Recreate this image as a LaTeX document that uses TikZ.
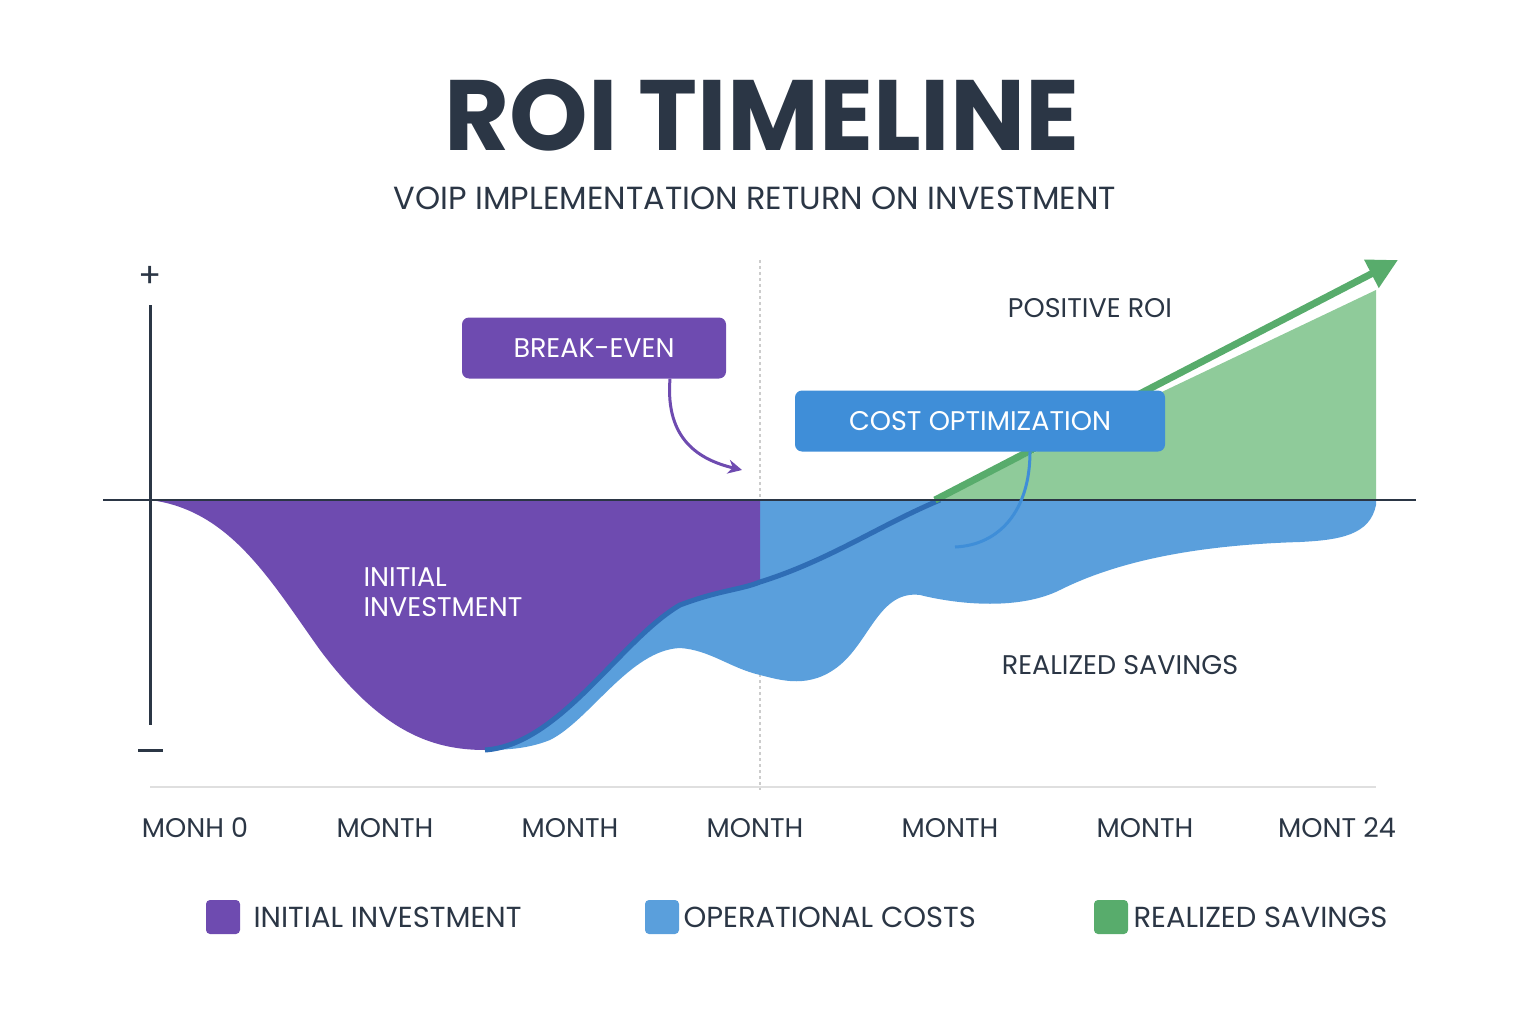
\documentclass[tikz,border=0pt]{standalone}
\usepackage{fontspec}
\setmainfont{Poppins}
\usetikzlibrary{arrows.meta}
\definecolor{navy}{HTML}{2B3645}
\definecolor{purp}{HTML}{6E4BB0}
\definecolor{blu}{HTML}{5A9FDC}
\definecolor{dblu}{HTML}{2F6DB5}
\definecolor{boxblu}{HTML}{3F8ED8}
\definecolor{grn}{HTML}{8FCB9A}
\definecolor{dgrn}{HTML}{58AC6C}
\tikzset{lbl/.style={font=\fontsize{27}{30}\selectfont\mdseries,text=navy},
 tag/.style={rounded corners=7pt,text=white,font=\fontsize{27}{30}\selectfont\mdseries,minimum height=61pt,inner xsep=12pt},
 sw/.style={rounded corners=4pt,minimum size=34pt,inner sep=0pt}}
\begin{document}
\begin{tikzpicture}[x=1pt,y=-1pt]
\useasboundingbox (0,0) rectangle (1536,1024);
\node[font=\fontsize{100}{100}\selectfont\bfseries,text=navy] (title) at (762,115) {ROI TIMELINE};
\node[font=\fontsize{32}{34}\selectfont\mdseries,text=navy] (sub) at (755,198) {VOIP IMPLEMENTATION RETURN ON INVESTMENT};
% gridlines
\draw[gray!25,line width=2pt] (150,787) -- (1376,787);
\draw[gray!40,line width=2pt,dashed] (760,260) -- (760,790);
% green
\fill[grn] (935,500) -- (1376,290) -- (1376,500) -- cycle;
% blue
\fill[blu] (760,500) -- (1376,500) -- (1376,505) .. controls (1370,535) and (1340,540) .. (1300,542)
 .. controls (1200,545) and (1120,560) .. (1060,590) .. controls (1020,610) and (960,605) .. (920,595)
 .. controls (880,590) and (870,640) .. (840,665) .. controls (810,690) and (780,680) .. (760,675)
 .. controls (730,668) and (710,650) .. (680,648) .. controls (630,650) and (590,720) .. (550,740)
 .. controls (530,748) and (510,750) .. (485,750)
 .. controls (560,745) and (620,640) .. (680,605) .. controls (720,590) and (740,590) .. (760,582) -- cycle;
% purple
\fill[purp] (150,500) .. controls (230,510) and (270,580) .. (320,650) .. controls (380,730) and (430,750) .. (485,750)
 .. controls (560,745) and (620,640) .. (680,605) .. controls (720,590) and (740,590) .. (760,582) -- (760,500) -- cycle;
% dark blue line
\draw[dblu,line width=5pt] (485,750) .. controls (560,745) and (620,640) .. (680,605) .. controls (720,590) and (740,590) .. (760,582)
 .. controls (830,560) and (880,525) .. (940,500);
% green arrow
\draw[dgrn,line width=7pt,-{Triangle[length=30pt,width=30pt]}] (935,500) -- (1398,260);
% axes
\draw[navy,line width=3pt] (150,305) -- (150,725);
\draw[navy,line width=2.5pt] (103,500) -- (1416,500);
\node[font=\fontsize{34}{34}\selectfont,text=navy] (plus) at (150,277) {+};
\draw[navy,line width=3pt] (138,750) -- (163,750);
% labels
\node[lbl] (pos) at (1090,308) {POSITIVE ROI};
\node[lbl,text=white,align=left,anchor=west] (init) at (360,592) {INITIAL\\INVESTMENT};
\node[lbl] (real) at (1120,665) {REALIZED SAVINGS};
% tags
\node[tag,fill=purp,minimum width=264pt] (be) at (594,348) {BREAK-EVEN};
\coordinate (bet) at (742,470);
\draw[purp,line width=3pt,-{Stealth[length=14pt,width=14pt]}] (be.south -| 670,0) .. controls (665,440) and (700,460) .. (bet);
\node[tag,fill=boxblu,minimum width=370pt] (co) at (980,421) {COST OPTIMIZATION};
\coordinate (cot) at (955,547);
\draw[boxblu,line width=3pt] (co.south -| 1030,0) .. controls (1030,510) and (1000,545) .. (cot);
% months
\foreach \x/\t [count=\i] in {195/MONH 0,385/MONTH,570/MONTH,755/MONTH,950/MONTH,1145/MONTH,1337/MONT 24}
 \node[lbl] (m\i) at (\x,828) {\t};
% legend
\node[sw,fill=purp] (s1) at (223,917) {};
\node[lbl,anchor=west,font=\fontsize{29}{30}\selectfont\mdseries] (l1) at (250,917) {INITIAL INVESTMENT};
\node[sw,fill=blu] (s2) at (662,917) {};
\node[lbl,anchor=west,font=\fontsize{29}{30}\selectfont\mdseries] (l2) at (680,917) {OPERATIONAL COSTS};
\node[sw,fill=dgrn] (s3) at (1111,917) {};
\node[lbl,anchor=west,font=\fontsize{29}{30}\selectfont\mdseries] (l3) at (1130,917) {REALIZED SAVINGS};
\end{tikzpicture}
\end{document}
